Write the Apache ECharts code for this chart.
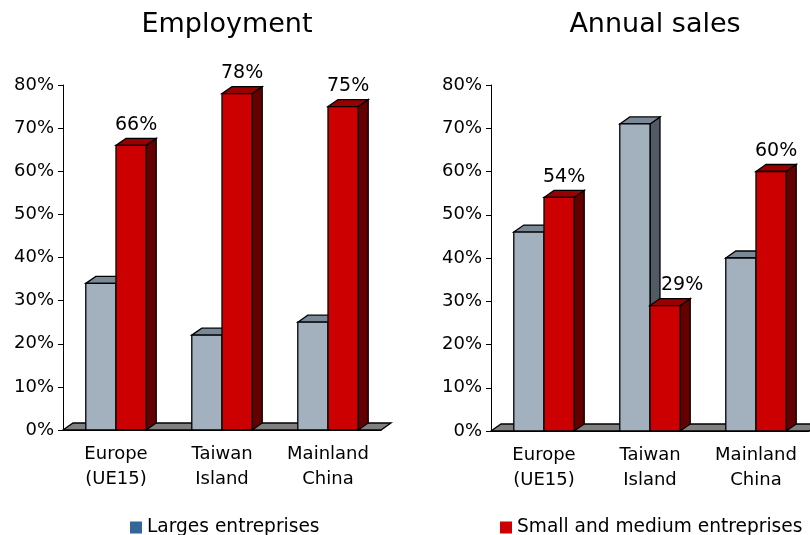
<!DOCTYPE html>
<html>
<head>
<meta charset="utf-8">
<script src="https://cdn.jsdelivr.net/npm/echarts@6/dist/echarts.min.js"></script>
<style>
html, body { margin: 0; padding: 0; background: #fff; }
#main { width: 810px; height: 535px; }
</style>
</head>
<body>
<div id="main"></div>
<script>
var categories = ['Europe\n(UE15)', 'Taiwan\nIsland', 'Mainland\nChina'];
var employmentLarge = [34, 22, 25];
var employmentSme = [66, 78, 75];
var salesLarge = [46, 71, 40];
var salesSme = [54, 29, 60];
var panelTitles = ['Employment', 'Annual sales'];
var seriesNames = ['Larges entreprises', 'Small and medium entreprises'];

var FONT = '"DejaVu Sans", Verdana, sans-serif';
var DX = 10, DY = 7;
var grayPal = { front: '#A3B1BF', top: '#7A8998', side: '#525A64' };
var redPal = { front: '#CC0000', top: '#990000', side: '#660000' };

// fake 3d column: front face, top and right side
// neighbour = the other series, used to push the label clear of a taller bar
function bar3d(pal, side, neighbour) {
	return function (params, api) {
		var idx = api.value(0), val = api.value(1);
		var top = api.coord([idx, val]);
		var base = api.coord([idx, 0]);
		var w = api.size([1, 0])[0] * 0.285;
		var x0 = side < 0 ? top[0] - w : top[0];
		var x1 = x0 + w;
		var yT = top[1], yB = base[1];
		var kids = [
			{ type: 'polygon', shape: { points: [[x1, yB], [x1 + DX, yB - DY], [x1 + DX, yT - DY], [x1, yT]] },
				style: { fill: pal.side, stroke: '#000', lineWidth: 1.3 } },
			{ type: 'polygon', shape: { points: [[x0, yT], [x0 + DX, yT - DY], [x1 + DX, yT - DY], [x1, yT]] },
				style: { fill: pal.top, stroke: '#000', lineWidth: 1.3 } },
			{ type: 'rect', shape: { x: x0, y: yT, width: w, height: yB - yT },
				style: { fill: pal.front, stroke: '#000', lineWidth: 1.3 } }
		];
		if (neighbour) {
			var shift = neighbour[idx] > val ? 12 : 0;
			kids.push({ type: 'text', style: {
				text: val + '%', x: (x0 + x1) / 2 + DX / 2 + shift, y: yT - DY - 4,
				align: 'center', verticalAlign: 'bottom', fill: '#000', font: '19px ' + FONT
			} });
		}
		return { type: 'group', children: kids };
	};
}

function floor(params, api) {
	var cs = params.coordSys;
	var y = api.coord([0, 0])[1];
	var a = cs.x, b = cs.x + cs.width;
	return { type: 'polygon', shape: { points: [[a, y], [a + DX, y - DY], [b + DX, y - DY], [b, y]] },
		style: { fill: '#808080', stroke: '#000', lineWidth: 1.3 } };
}

function pairs(arr) {
	return arr.map(function (v, i) { return [i, v]; });
}

var myChart = echarts.init(document.getElementById('main'));

var grids = [
	{ left: 63, top: 85, width: 318, bottom: 105 },
	{ left: 491, top: 85, width: 318, bottom: 104 }
];
var xAxes = [], yAxes = [], titles = [];
for (var g = 0; g < 2; g++) {
	xAxes.push({
		type: 'category', gridIndex: g, data: categories,
		axisLine: { lineStyle: { color: '#000' } },
		axisTick: { length: 6, lineStyle: { color: '#000' } },
		axisLabel: { interval: 0, color: '#000', fontSize: 18, fontFamily: FONT, lineHeight: 25, margin: 12 }
	});
	yAxes.push({
		type: 'value', gridIndex: g, min: 0, max: 80, interval: 10,
		axisLine: { show: true, lineStyle: { color: '#000' } },
		axisTick: { show: true, length: 5, lineStyle: { color: '#000' } },
		splitLine: { show: false },
		axisLabel: { formatter: '{value}%', color: '#000', fontSize: 18, fontFamily: FONT, margin: 9 }
	});
	titles.push({
		text: panelTitles[g], left: grids[g].left + grids[g].width / 2, top: 6, textAlign: 'center',
		textStyle: { fontSize: 27, fontWeight: 'normal', color: '#000', fontFamily: FONT }
	});
}

option = {
	animation: false,
	title: titles,
	legend: [
		{ left: 125, top: 513, itemWidth: 12, itemHeight: 12, icon: 'rect',
			textStyle: { fontSize: 18.6, color: '#000', fontFamily: FONT },
			data: [{ name: seriesNames[0], itemStyle: { color: '#336699' } }] },
		{ left: 495, top: 513, itemWidth: 12, itemHeight: 12, icon: 'rect',
			textStyle: { fontSize: 18.6, color: '#000', fontFamily: FONT },
			data: [{ name: seriesNames[1], itemStyle: { color: '#CC0000' } }] }
	],
	grid: grids,
	xAxis: xAxes,
	yAxis: yAxes,
	series: [
		{ type: 'custom', name: 'floor0', xAxisIndex: 0, yAxisIndex: 0, z: 1, data: [[0, 0]], renderItem: floor, silent: true },
		{ type: 'custom', name: 'floor1', xAxisIndex: 1, yAxisIndex: 1, z: 1, data: [[0, 0]], renderItem: floor, silent: true },
		{ type: 'custom', name: seriesNames[0], xAxisIndex: 0, yAxisIndex: 0, z: 2, encode: { x: 0, y: 1 },
			data: pairs(employmentLarge), renderItem: bar3d(grayPal, -1, null), itemStyle: { color: '#336699' } },
		{ type: 'custom', name: seriesNames[1], xAxisIndex: 0, yAxisIndex: 0, z: 3, encode: { x: 0, y: 1 },
			data: pairs(employmentSme), renderItem: bar3d(redPal, 1, employmentLarge), itemStyle: { color: '#CC0000' } },
		{ type: 'custom', name: seriesNames[0], xAxisIndex: 1, yAxisIndex: 1, z: 2, encode: { x: 0, y: 1 },
			data: pairs(salesLarge), renderItem: bar3d(grayPal, -1, null), itemStyle: { color: '#336699' } },
		{ type: 'custom', name: seriesNames[1], xAxisIndex: 1, yAxisIndex: 1, z: 3, encode: { x: 0, y: 1 },
			data: pairs(salesSme), renderItem: bar3d(redPal, 1, salesLarge), itemStyle: { color: '#CC0000' } }
	]
};
myChart.setOption(option);
</script>
</body>
</html>
